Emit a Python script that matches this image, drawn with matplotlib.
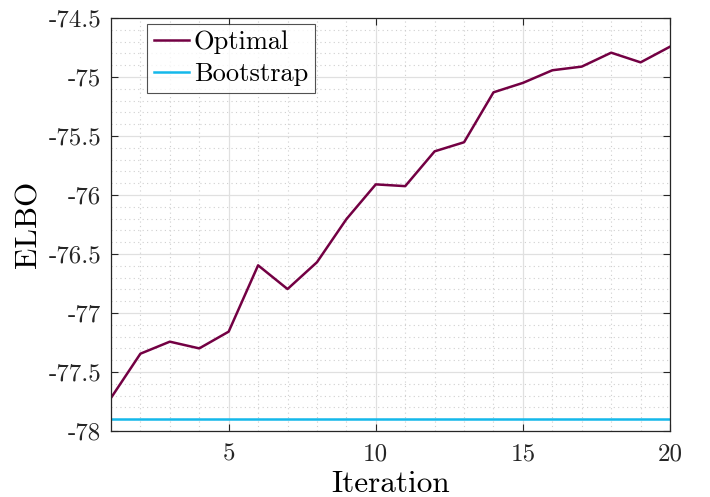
import matplotlib
matplotlib.use("Agg")
import matplotlib.pyplot as plt
from matplotlib.ticker import MultipleLocator, FuncFormatter

plt.rcParams['font.family'] = 'cmr10'
plt.rcParams['axes.unicode_minus'] = False
plt.rcParams['mathtext.fontset'] = 'cm'

iterations = list(range(1, 21))
optimal = [-77.72, -77.345, -77.243, -77.30, -77.158, -76.596, -76.797, -76.57,
           -76.205, -75.91, -75.925, -75.63, -75.553, -75.13, -75.05, -74.943,
           -74.912, -74.794, -74.876, -74.743]
bootstrap = [-77.898] * 20

fig = plt.figure(figsize=(7.1, 4.97), dpi=100)
ax = fig.add_axes([0.1563, 0.1328, 0.7874, 0.831])

ax.plot(iterations, optimal, color='#730043', lw=1.8, label='Optimal')
ax.plot(iterations, bootstrap, color='#14B8EA', lw=1.8, label='Bootstrap')

ax.set_xlim(1, 20)
ax.set_ylim(-78, -74.5)
ax.xaxis.set_major_locator(MultipleLocator(5))
ax.xaxis.set_minor_locator(MultipleLocator(1))
ax.yaxis.set_major_locator(MultipleLocator(0.5))
ax.yaxis.set_minor_locator(MultipleLocator(0.1))
ax.yaxis.set_major_formatter(FuncFormatter(lambda v, p: '%g' % v))

ax.grid(which='major', color='#e0e0e0', lw=0.9, ls='-')
ax.grid(which='minor', color='#cfcfcf', lw=0.8, ls=(0, (1, 3)))
ax.set_axisbelow(True)

ax.tick_params(which='major', direction='in', length=5, width=0.8,
               top=True, right=True, labelsize=18, colors='#262626')
ax.tick_params(axis='x', which='major', pad=9)
ax.tick_params(axis='y', which='major', pad=7)
ax.tick_params(which='minor', length=0, top=False, right=False)
for s in ax.spines.values():
    s.set_color('#262626')
    s.set_linewidth(0.9)

ax.set_xlabel('Iteration', fontsize=22.5, labelpad=3)
ax.set_ylabel('ELBO', fontsize=22.5, labelpad=4)

leg = ax.legend(loc='upper left', bbox_to_anchor=(0.064, 0.986), fontsize=19,
                frameon=True, fancybox=False, edgecolor='#262626',
                handlelength=1.35, handletextpad=0.18, borderpad=0.26,
                labelspacing=0.3, borderaxespad=0.0)
leg.get_frame().set_linewidth(0.8)

fig.savefig('out.png', dpi=100)
